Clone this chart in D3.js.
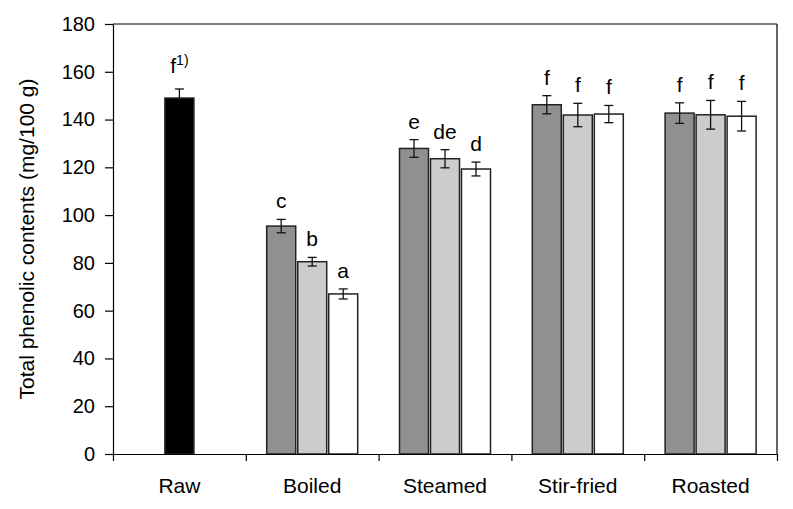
<!DOCTYPE html>
<html>
<head>
<meta charset="utf-8">
<script src="https://d3js.org/d3.v7.min.js"></script>
<style>
  body { margin: 0; background: #fff; }
  svg text { font-family: "Liberation Sans", Arial, sans-serif; fill: #000; }
</style>
</head>
<body>
<div id="chart"></div>
<script>
// data
var categories = ["Raw", "Boiled", "Steamed", "Stir-fried", "Roasted"];
var rawValue = 149.0, rawError = 3.8, rawLetter = "f";
var cooked = ["Boiled", "Steamed", "Stir-fried", "Roasted"];
var seriesDark  = [95.4, 127.9, 146.2, 142.7];
var seriesLight = [80.5, 123.6, 141.9, 142.0];
var seriesWhite = [67.0, 119.3, 142.3, 141.4];
var errDark  = [2.8, 3.7, 3.8, 4.3];
var errLight = [1.8, 3.8, 4.9, 6.0];
var errWhite = [2.1, 2.9, 3.6, 6.2];
var lettersDark  = ["c", "e", "f", "f"];
var lettersLight = ["b", "de", "f", "f"];
var lettersWhite = ["a", "d", "f", "f"];
var yTicks = [0, 20, 40, 60, 80, 100, 120, 140, 160, 180];

var width = 793, height = 509;
var margin = {top: 24, right: 16, bottom: 55, left: 113};

var svg = d3.select("#chart").append("svg")
    .attr("width", width)
    .attr("height", height);

var x = d3.scaleBand()
    .domain(categories)
    .range([margin.left, width - margin.right])
    .padding(0);

var edges = d3.scaleLinear()
    .domain([0, categories.length])
    .range([margin.left, width - margin.right]);

var y = d3.scaleLinear()
    .domain([0, 180])
    .range([height - margin.bottom, margin.top]);

var inner = d3.scalePoint()
    .domain([0, 1, 2])
    .range([-31, 31]);
var barW = 29;
var fills = ["#909090", "#cccccc", "#ffffff"];

// build a flat list of bars
var bars = [{cat: "Raw", off: 0, v: rawValue, e: rawError, lab: rawLetter, fill: "#000000", sup: "1)"}];
var sets = [[seriesDark, errDark, lettersDark], [seriesLight, errLight, lettersLight], [seriesWhite, errWhite, lettersWhite]];
cooked.forEach(function(c, i) {
  sets.forEach(function(s, k) {
    bars.push({cat: c, off: inner(k), v: s[0][i], e: s[1][i], lab: s[2][i], fill: fills[k]});
  });
});

function cx(d) { return x(d.cat) + x.bandwidth() / 2 + d.off; }

// frame: top and right lines
svg.append("line")
    .attr("x1", margin.left).attr("x2", width - margin.right)
    .attr("y1", y(180)).attr("y2", y(180))
    .attr("stroke", "#000").attr("stroke-width", 1.2);
svg.append("line")
    .attr("x1", width - margin.right).attr("x2", width - margin.right)
    .attr("y1", y(180)).attr("y2", y(0))
    .attr("stroke", "#000").attr("stroke-width", 1.2);

svg.append("g").selectAll("rect")
    .data(bars)
  .enter().append("rect")
    .attr("x", function(d) { return cx(d) - barW / 2; })
    .attr("y", function(d) { return y(d.v); })
    .attr("width", barW)
    .attr("height", function(d) { return y(0) - y(d.v); })
    .attr("fill", function(d) { return d.fill; })
    .attr("stroke", "#222")
    .attr("stroke-width", 1.5);

// error bars
var eb = svg.append("g").attr("stroke", "#111").attr("stroke-width", 1.3);
bars.forEach(function(d) {
  var c = cx(d);
  var y1 = d.fill === "#000000" ? y(d.v) : y(d.v - d.e);
  eb.append("line").attr("x1", c).attr("x2", c).attr("y1", y(d.v + d.e)).attr("y2", y1);
  eb.append("line").attr("x1", c - 4.5).attr("x2", c + 4.5).attr("y1", y(d.v + d.e)).attr("y2", y(d.v + d.e));
  if (d.fill !== "#000000")
    eb.append("line").attr("x1", c - 4.5).attr("x2", c + 4.5).attr("y1", y(d.v - d.e)).attr("y2", y(d.v - d.e));
});

// significance letters
var lab = svg.append("g").selectAll("text")
    .data(bars)
  .enter().append("text")
    .attr("x", function(d) { return cx(d); })
    .attr("y", function(d) { return y(d.v + d.e) - (d.sup ? 16 : 11); })
    .attr("text-anchor", "middle")
    .style("font-size", "21px");
lab.append("tspan").text(function(d) { return d.lab; });
lab.filter(function(d) { return d.sup; })
  .append("tspan")
    .attr("dy", -8)
    .style("font-size", "14px")
    .text(function(d) { return d.sup; });

// y axis
var yAxis = svg.append("g")
    .attr("transform", "translate(" + margin.left + ",0)")
    .call(d3.axisLeft(y).tickValues(yTicks).tickSize(8).tickPadding(10).tickSizeOuter(0));
yAxis.selectAll("text").style("font-size", "20px");
yAxis.selectAll("line, path").attr("stroke", "#000").attr("stroke-width", 1.2);

// x axis with ticks between groups
var xAxis = svg.append("g")
    .attr("transform", "translate(0," + y(0) + ")")
    .call(d3.axisBottom(edges).tickValues(d3.range(0, categories.length + 1)).tickFormat("").tickSize(7).tickSizeOuter(0));
xAxis.selectAll("line, path").attr("stroke", "#000").attr("stroke-width", 1.2);

svg.append("g").selectAll("text")
    .data(categories)
  .enter().append("text")
    .attr("x", function(d) { return x(d) + x.bandwidth() / 2; })
    .attr("y", y(0) + 39)
    .attr("text-anchor", "middle")
    .style("font-size", "21px")
    .text(function(d) { return d; });

svg.append("text")
    .attr("transform", "translate(34," + (y(0) + y(180)) / 2 + ") rotate(-90)")
    .attr("text-anchor", "middle")
    .style("font-size", "21px")
    .text("Total phenolic contents (mg/100 g)");
</script>
</body>
</html>
